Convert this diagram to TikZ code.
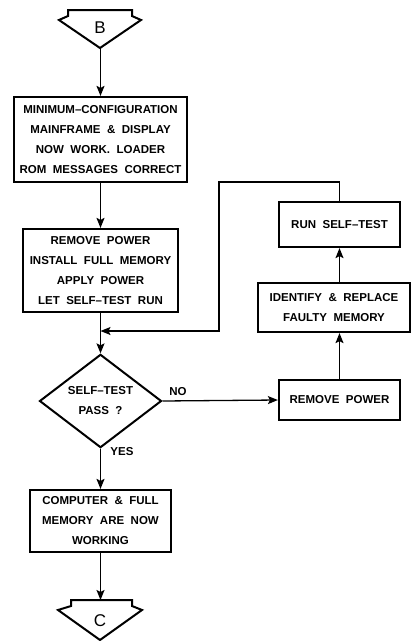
\documentclass[tikz,border=0pt]{standalone}
\usepackage{fontspec}
\setmainfont{Liberation Sans}
\usetikzlibrary{shapes.geometric,arrows.meta}
\newcommand{\letrero}{\fontsize{11.5}{20}\selectfont\bfseries\spaceskip 6.5pt\relax}
\begin{document}
\begin{tikzpicture}[x=1pt, y=-1pt,
        letra/.style={font=\letrero},
        caja/.style={letra, draw, line width=2.2pt, align=center, inner sep=0pt},
        flecha/.style={line width=1.3pt, -{Stealth[length=10pt,width=8pt,inset=2pt]}},
        borde/.style={line width=2pt, line join=miter}]
        \useasboundingbox (0,0) rectangle (411,641);

        % Conector B
        \draw[borde] (68,10) -- (132,10) -- (132,16) -- (141,20) -- (100,48) -- (59,20) -- (68,16) -- cycle;
        \node[font=\fontsize{17}{17}\selectfont] (letraB) at (100,28) {B};
        \coordinate (puntaB) at (100.5,48);

        % Columna principal
        \node[caja, minimum width=173pt, minimum height=85pt] (minconf) at (100.5,139.5)
            {MINIMUM--CONFIGURATION\\MAINFRAME \& DISPLAY\\NOW WORK. LOADER\\ROM MESSAGES CORRECT};
        \node[caja, minimum width=155pt, minimum height=83pt] (memoria) at (100.5,270.5)
            {REMOVE POWER\\INSTALL FULL MEMORY\\APPLY POWER\\LET SELF--TEST RUN};
        \node[letra, diamond, draw, line width=2pt, inner sep=0pt, align=center,
            minimum width=122pt, minimum height=78pt] (prueba) at (100.5,401)
            {SELF--TEST\\PASS ?};
        \node[caja, minimum width=141pt, minimum height=62pt] (listo) at (100.5,521)
            {COMPUTER \& FULL\\MEMORY ARE NOW\\WORKING};

        % Columna derecha
        \node[caja, minimum width=121pt, minimum height=45pt] (correr) at (339.5,224.5) {RUN SELF--TEST};
        \node[caja, minimum width=152pt, minimum height=49pt] (reemplazo) at (334,307.5)
            {IDENTIFY \& REPLACE\\FAULTY MEMORY};
        \node[caja, minimum width=121pt, minimum height=40pt] (quitar) at (339.5,400) {REMOVE POWER};

        % Conector C
        \coordinate (topeC) at (100.5,600);
        \draw[borde] (71,600) -- (132,600) -- (132,606) -- (142,610) -- (100,640) -- (58,610) -- (71,606) -- cycle;
        \node[font=\fontsize{17}{17}\selectfont] (letraC) at (100,621) {C};

        % Flechas
        \coordinate (lazo) at (219,182);
        \coordinate (union) at (100.5,331);
        \draw[flecha] (puntaB) -- (minconf);
        \draw[flecha] (minconf) -- (memoria);
        \draw[flecha] (memoria) -- (prueba);
        \draw[flecha] (correr.north) |- (lazo) |- (union);
        \draw[flecha] (prueba.east) -- (quitar.west);
        \draw[flecha] (quitar.north) -- (quitar.north |- reemplazo.south);
        \draw[flecha] (reemplazo.north -| correr.south) -- (correr.south);
        \draw[flecha] (prueba) -- (listo);
        \draw[flecha] (listo) -- (topeC);

        % Rotulos
        \node[letra] (no) at (178,392) {NO};
        \node[letra] (si) at (122,452) {YES};
    \end{tikzpicture}
\end{document}
